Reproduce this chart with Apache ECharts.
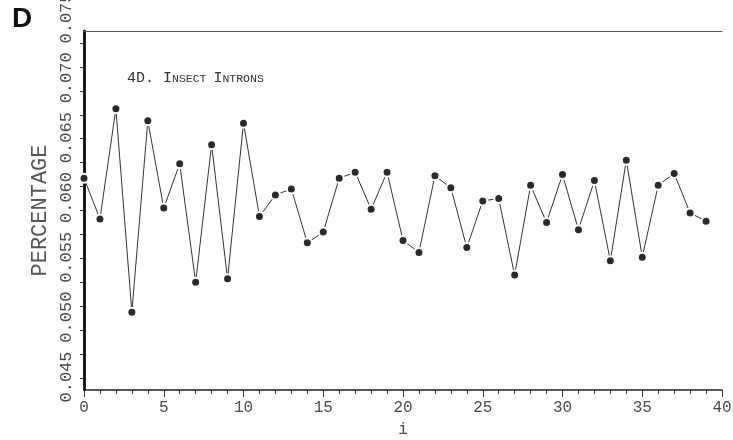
<!DOCTYPE html>
<html>
<head>
<meta charset="utf-8">
<script src="https://cdn.jsdelivr.net/npm/echarts@6/dist/echarts.min.js"></script>
<style>
  html, body { margin: 0; padding: 0; background: #fff; }
  #chart { width: 733px; height: 440px; }
</style>
</head>
<body>
<div id="chart"></div>
<script>
// Position index i along the intron
const positions = [0, 1, 2, 3, 4, 5, 6, 7, 8, 9,
  10, 11, 12, 13, 14, 15, 16, 17, 18, 19,
  20, 21, 22, 23, 24, 25, 26, 27, 28, 29,
  30, 31, 32, 33, 34, 35, 36, 37, 38, 39];

// Percentage at each position
const percentages = [0.0627, 0.0593, 0.0685, 0.0515, 0.0675, 0.0602, 0.0639, 0.0540, 0.0655, 0.0543,
  0.0673, 0.0595, 0.0613, 0.0618, 0.0573, 0.0582, 0.0627, 0.0632, 0.0601, 0.0632,
  0.0575, 0.0565, 0.0629, 0.0619, 0.0569, 0.0608, 0.0610, 0.0546, 0.0621, 0.0590,
  0.0630, 0.0584, 0.0625, 0.0558, 0.0642, 0.0561, 0.0621, 0.0631, 0.0598, 0.0591];

// Axis ticks and labels
const xTickValues = [0, 1, 2, 3, 4, 5, 6, 7, 8, 9, 10, 11, 12, 13, 14, 15, 16, 17, 18, 19, 20,
  21, 22, 23, 24, 25, 26, 27, 28, 29, 30, 31, 32, 33, 34, 35, 36, 37, 38, 39, 40];
const xLabelValues = [0, 5, 10, 15, 20, 25, 30, 35, 40];
const yTickValues = [0.046, 0.048, 0.050, 0.052, 0.054, 0.056, 0.058, 0.060,
  0.062, 0.064, 0.066, 0.068, 0.070, 0.072, 0.074];
const yLabelValues = [0.045, 0.050, 0.055, 0.060, 0.065, 0.070, 0.075];

const monoFont = '"Liberation Mono", "DejaVu Sans Mono", monospace';
const textGray = '#4a4a4a';

const chart = echarts.init(document.getElementById('chart'), null, { renderer: 'canvas' });

chart.setOption({
  animation: false,
  backgroundColor: '#fff',
  title: [
    {
      text: 'D',
      left: 7,
      top: 0,
      textStyle: { fontFamily: '"Liberation Sans", Arial, sans-serif', fontWeight: 'bold', fontSize: 28, color: '#111' }
    },
    {
      text: '{b|4D. }{b|I}{s|NSECT }{b|I}{s|NTRONS}',
      left: 122,
      top: 66,
      textStyle: {
        rich: {
          b: { fontFamily: monoFont, fontWeight: 'normal', fontSize: 15, color: '#333' },
          s: { fontFamily: monoFont, fontWeight: 'normal', fontSize: 11.5, color: '#333' }
        }
      }
    }
  ],
  grid: { left: 84, right: 11, top: 31, bottom: 50, containLabel: false, outerBoundsMode: 'none' },
  xAxis: [
    {
      type: 'value', position: 'bottom', min: 0, max: 40,
      name: 'i', nameLocation: 'middle', nameGap: 32, nameMoveOverlap: false,
      nameTextStyle: { fontFamily: monoFont, fontSize: 16, color: textGray },
      axisLine: { show: true, lineStyle: { color: '#222', width: 1.5 } },
      axisTick: { show: true, customValues: xTickValues, inside: false, length: 4, lineStyle: { color: '#333', width: 1 } },
      axisLabel: { show: true, customValues: xLabelValues, margin: 10, fontFamily: monoFont, fontSize: 16, color: textGray },
      splitLine: { show: false }
    },
    {
      // longer ticks every five positions
      type: 'value', position: 'bottom', min: 0, max: 40, interval: 5,
      axisLine: { show: false },
      axisTick: { show: true, inside: false, length: 7, lineStyle: { color: '#333', width: 1 } },
      axisLabel: { show: false },
      splitLine: { show: false }
    },
    {
      // frame top edge
      type: 'value', position: 'top', min: 0, max: 40,
      axisLine: { show: true, lineStyle: { color: '#555', width: 1 } },
      axisTick: { show: false }, axisLabel: { show: false }, splitLine: { show: false }
    }
  ],
  yAxis: [
    {
      type: 'value', position: 'left', min: 0.045, max: 0.075,
      name: 'PERCENTAGE', nameLocation: 'middle', nameRotate: 90, nameGap: 33, nameMoveOverlap: false,
      nameTextStyle: { fontFamily: monoFont, fontSize: 22, color: '#555' },
      axisLine: { show: true, lineStyle: { color: '#111', width: 2.5 } },
      axisTick: { show: true, customValues: yTickValues, inside: false, length: 4, lineStyle: { color: '#333', width: 1 } },
      axisLabel: {
        show: true, customValues: yLabelValues, rotate: 90, margin: 9,
        align: 'center', verticalAlign: 'bottom', padding: [0, 0, 0, 26],
        fontFamily: monoFont, fontSize: 17, color: textGray,
        formatter: v => v.toFixed(3)
      },
      splitLine: { show: false }
    },
    {
      // frame right edge
      type: 'value', position: 'right', min: 0.045, max: 0.075,
      axisLine: { show: true, lineStyle: { color: '#111', width: 2.5 } },
      axisTick: { show: false }, axisLabel: { show: false }, splitLine: { show: false }
    }
  ],
  series: [
    {
      type: 'line',
      xAxisIndex: 0,
      yAxisIndex: 0,
      data: positions.map((p, k) => [p, percentages[k]]),
      lineStyle: { color: '#333', width: 1 },
      symbol: 'circle',
      symbolSize: 9,
      itemStyle: { color: '#2a2a2a', borderColor: '#fff', borderWidth: 2 },
      z: 3
    }
  ]
});
</script>
</body>
</html>
